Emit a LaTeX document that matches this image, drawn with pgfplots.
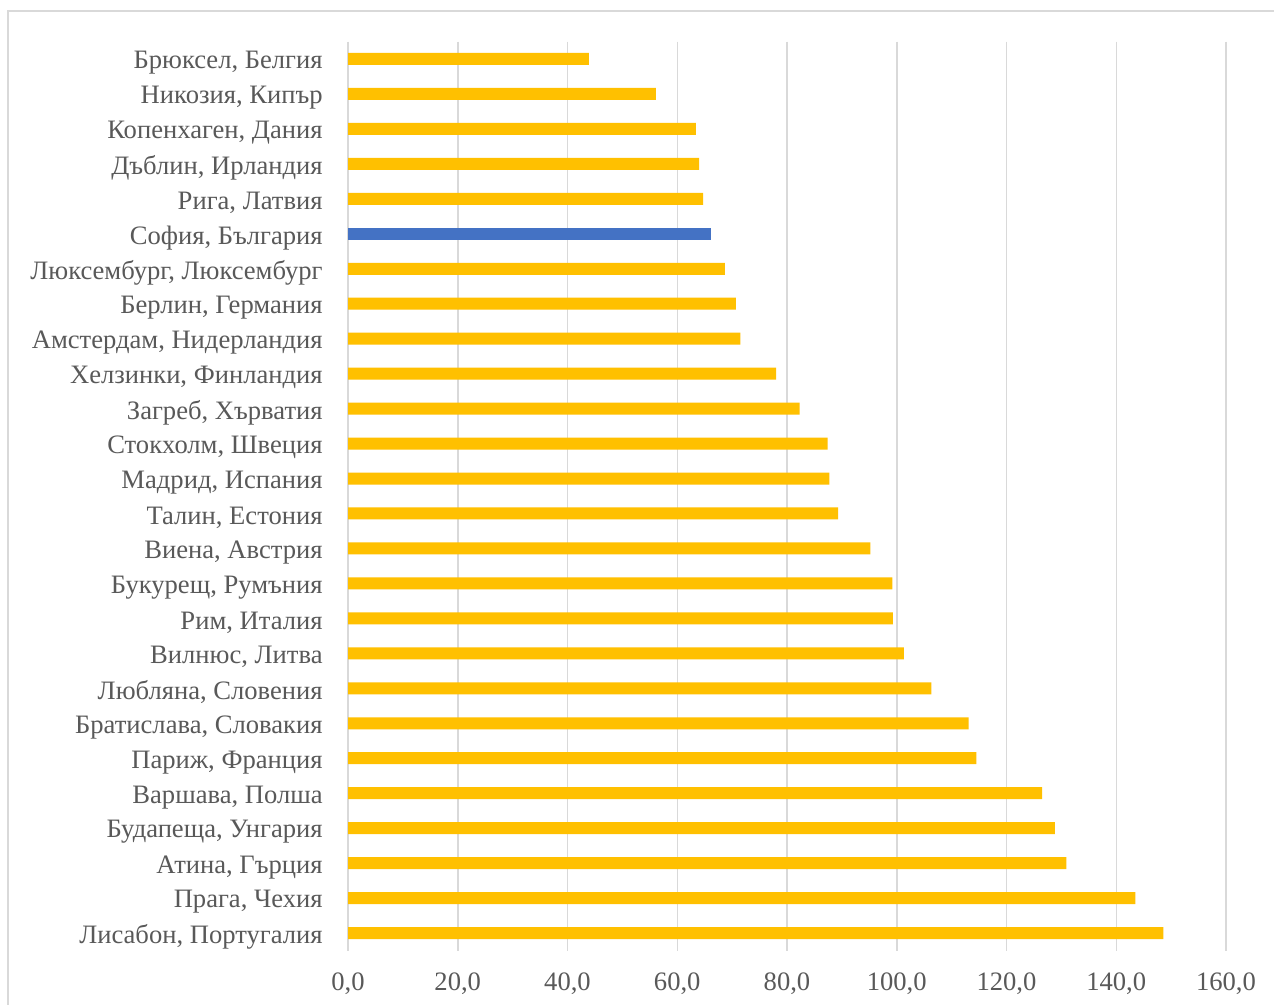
\documentclass[border=0pt]{standalone}
\usepackage{fontspec}
\setmainfont{Liberation Serif}
\usepackage{pgfplots}
\usepackage{pgfplotstable}
\pgfplotsset{compat=1.18}

\definecolor{baryellow}{HTML}{FFC000}
\definecolor{barblue}{HTML}{4472C4}
\definecolor{gridgray}{HTML}{D9D9D9}
\definecolor{labelgray}{HTML}{595959}

% Index (0 = top row) and value for every city; Sofia is drawn separately
\pgfplotstableread{
idx val
0   43.9
1   56.1
2   63.4
3   64.0
4   64.7
6   68.7
7   70.7
8   71.5
9   78.0
10  82.3
11  87.4
12  87.7
13  89.3
14  95.2
15  99.2
16  99.3
17  101.3
18  106.3
19  113.1
20  114.5
21  126.5
22  128.8
23  130.9
24  143.5
25  148.6
}\othercities

\pgfplotstableread{
idx val
5   66.2
}\sofia

\begin{document}
\begin{tikzpicture}[x=0.5pt,y=0.5pt]
\clip (0,0) rectangle (1274,1005);
\fill[white] (0,0) rectangle (1274,1005);
% chart frame
\draw[gridgray, line width=1pt] (8,-20) -- (8,994) -- (1300,994);
\begin{axis}[
  at={(174pt,27.25pt)}, anchor=south west,
  scale only axis,
  width=439pt, height=454.5pt,
  xmin=0, xmax=160,
  ymin=-0.5, ymax=25.5,
  y dir=reverse,
  xtick={0,20,...,160},
  ytick={0,...,25},
  yticklabels={
    {Брюксел, Белгия},
    {Никозия, Кипър},
    {Копенхаген, Дания},
    {Дъблин, Ирландия},
    {Рига, Латвия},
    {София, България},
    {Люксембург, Люксембург},
    {Берлин, Германия},
    {Амстердам, Нидерландия},
    {Хелзинки, Финландия},
    {Загреб, Хърватия},
    {Стокхолм, Швеция},
    {Мадрид, Испания},
    {Талин, Естония},
    {Виена, Австрия},
    {Букурещ, Румъния},
    {Рим, Италия},
    {Вилнюс, Литва},
    {Любляна, Словения},
    {Братислава, Словакия},
    {Париж, Франция},
    {Варшава, Полша},
    {Будапеща, Унгария},
    {Атина, Гърция},
    {Прага, Чехия},
    {Лисабон, Португалия}},
  axis line style={draw=none},
  major tick length=0pt,
  xmajorgrids,
  grid style={gridgray, line width=0.75pt},
  tick label style={font=\fontsize{13.3}{16}\selectfont, text=labelgray},
  yticklabel style={anchor=east, inner sep=0pt, xshift=-12.5pt, yshift=-2pt},
  xticklabel style={anchor=north, inner sep=0pt, yshift=-11pt},
  xticklabel={\pgfmathprintnumber[fixed, fixed zerofill, precision=1, use comma, assume math mode=true]{\tick}},
  xbar,
  bar width=6pt,
  bar shift=0pt,
  clip=false,
]
\addplot[fill=baryellow, draw=none] table[x=val, y=idx] {\othercities};
\addplot[fill=barblue, draw=none] table[x=val, y=idx] {\sofia};
\end{axis}
\end{tikzpicture}
\end{document}
